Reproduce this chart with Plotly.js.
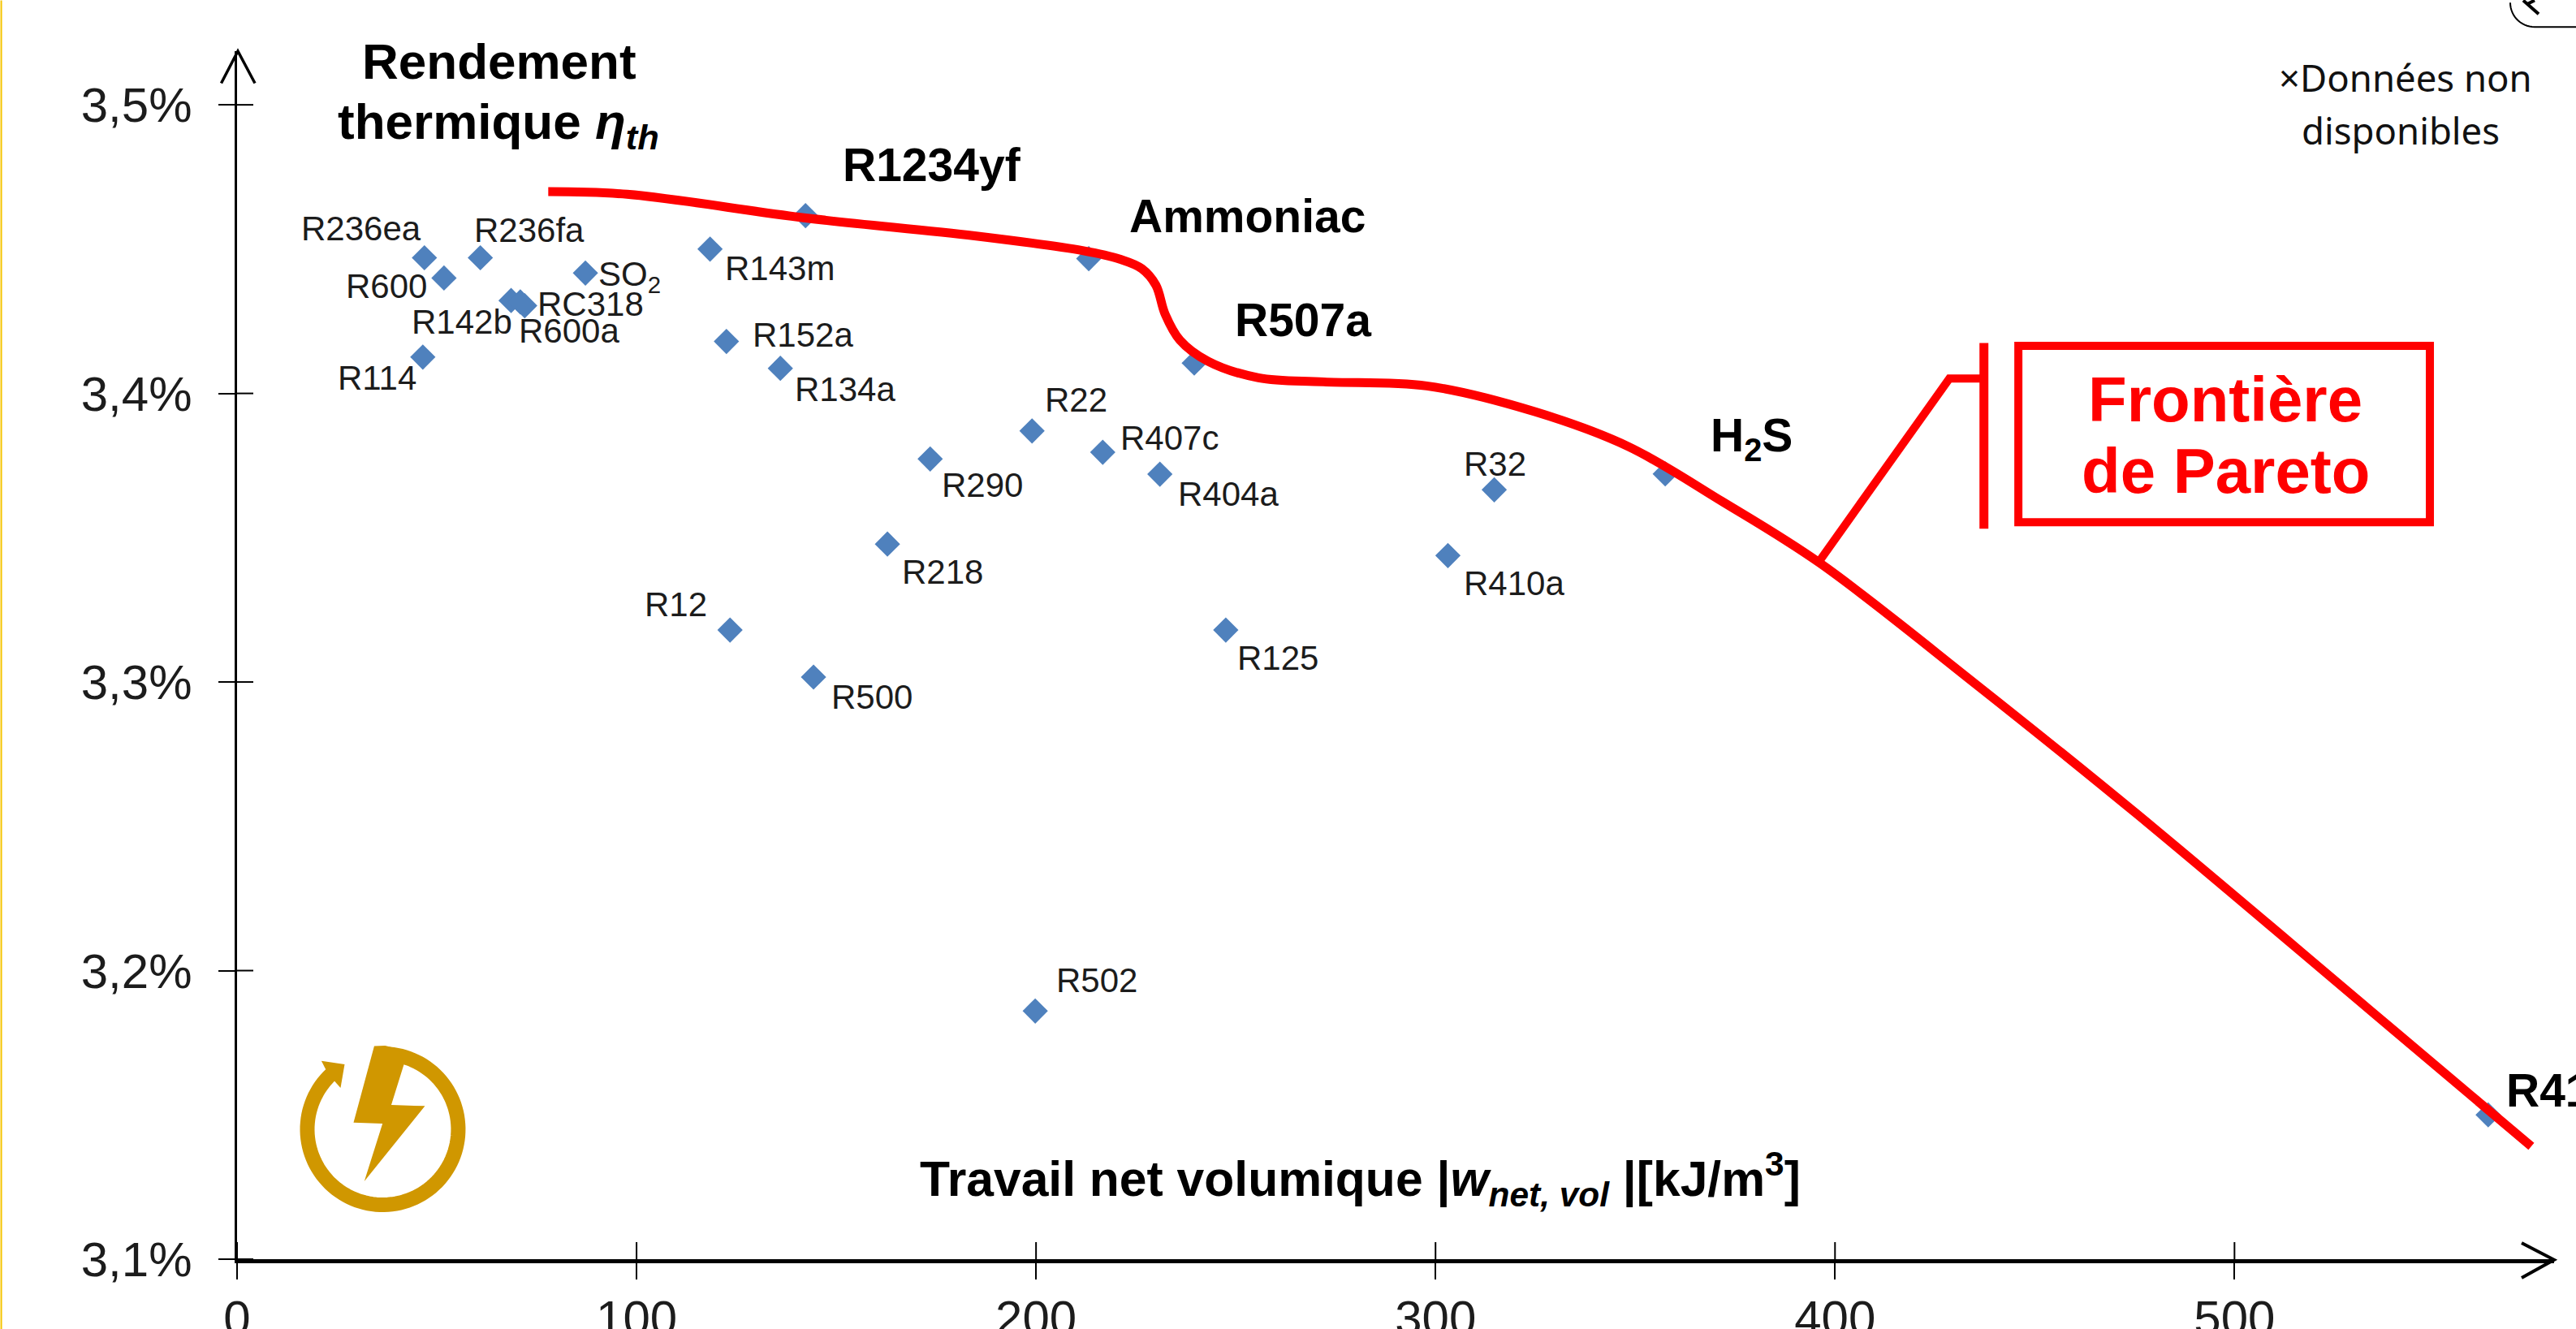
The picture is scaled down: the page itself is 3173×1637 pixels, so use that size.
<!DOCTYPE html>
<html><head><meta charset="utf-8">
<script src="https://cdn.plot.ly/plotly-3.0.1.min.js"></script>
<style>html,body{margin:0;padding:0;background:#fff;overflow:hidden}#c{width:3173px;height:1637px}</style>
</head><body><div id="c"></div>
<script>
// ---- data ----
const fluids = ['R236ea','R600','R236fa','R142b','R600a','RC318','SO<sub>2</sub>','R143m','R1234yf','R114','R152a','R134a','R22','R290','R407c','R404a','Ammoniac','R507a','R218','R12','R500','R125','R32','R410a','H<sub>2</sub>S','R502','R41'];
const workNet = [46.9,51.8,60.9,68.6,70.9,72,87.2,118.4,142.3,46.5,122.5,136,199,173.5,216.7,231,213.2,239.6,162.8,123.4,144.3,247.5,314.7,303.1,357.5,199.8,563.5];
const efficiency = [3.447,3.44,3.447,3.4322,3.4317,3.4304,3.4417,3.45,3.4616,3.4126,3.418,3.4087,3.387,3.3773,3.3796,3.372,3.4467,3.4105,3.3478,3.318,3.3017,3.318,3.3666,3.3438,3.3721,3.186,3.15];
const frontX = [77.9,97.6,142.3,184.6,211.6,221,226.5,230,232.3,236,243,255.7,272,297.8,325,348.4,371.7,396.2,435.1,475.8,533.4,574.3];
const frontY = [3.4699,3.469,3.4608,3.4546,3.4495,3.4465,3.4432,3.4375,3.4275,3.4185,3.4112,3.4054,3.404,3.4026,3.3936,3.3815,3.3626,3.3412,3.2994,3.254,3.1869,3.1391];
const xTicks = [0,100,200,300,400,500];
const yTicks = [3.1,3.2,3.3,3.4,3.5];
const yTickText = ['3,1%','3,2%','3,3%','3,4%','3,5%'];
const boldFluids = ['R1234yf','Ammoniac','R507a','H<sub>2</sub>S','R41'];

// ---- label placement (pixels from each point), kept apart from the data ----
const labelOffsets = {
 'R236ea':[-154,-36],'R600':[-123,10],'R236fa':[-10,-34],'R142b':[-125,26],'R600a':[-4,36],'RC318':[14,-2],
 'SO<sub>2</sub>':[14,4],'R143m':[16,24],'R1234yf':[44,-63],'R114':[-107,26],'R152a':[30,-8],'R134a':[16,26],
 'R22':[14,-38],'R290':[12,32],'R407c':[20,-18],'R404a':[20,24],'Ammoniac':[48,-53],'R507a':[48,-53],
 'R218':[16,34],'R12':[-107,-32],'R500':[20,24],'R125':[12,34],'R32':[-40,-32],'R410a':[18,34],
 'H<sub>2</sub>S':[54,-44],'R502':[24,-38],'R41':[20,-30]
};

const W=3173,H=1637,L=291.5,R=27,T=62.5,B=86;
const pw=W-L-R, ph=H-T-B;
const fx=x=>(x-L)/pw, fy=y=>(H-B-y)/ph;
const FONT='"Liberation Sans", Arial, sans-serif';
const INK='#1c1c1c', RED='#ff0000', GOLD='#d09700';
const pathOf=(pts,close)=>pts.map((p,i)=>(i?'L':'M')+fx(p[0]).toFixed(5)+' '+fy(p[1]).toFixed(5)).join(' ')+(close?' Z':'');
const shapePath=(pts,opt)=>Object.assign({type:'path',xref:'paper',yref:'paper',path:pathOf(pts,opt.close),layer:'above',
  fillcolor:opt.fill||'rgba(0,0,0,0)',line:{color:opt.color||'rgba(0,0,0,0)',width:opt.width||0}});

const shapes=[];
// arrows
shapes.push(shapePath([[272,102],[292.5,62.5],[313.5,102]],{color:'#000',width:3.5}));
shapes.push(shapePath([[3106,1531],[3146,1551.7],[3106,1574]],{color:'#000',width:4}));
// inner half of crossing ticks
xTicks.forEach(v=>shapes.push({type:'line',xref:'x',yref:'paper',x0:v,x1:v,y0:0,y1:21/ph,line:{color:'#000',width:2}}));
yTicks.forEach(v=>shapes.push({type:'line',yref:'y',xref:'paper',y0:v,y1:v,x0:0,x1:20/pw,line:{color:'#000',width:2}}));
// yellow edge of the slide
shapes.push({type:'rect',xref:'paper',yref:'paper',x0:fx(0),x1:fx(2),y0:fy(0),y1:fy(H),fillcolor:'#f5c400',line:{width:0}});
// Pareto callout
shapes.push(shapePath([[2240,692],[2401,466],[2443.6,466]],{color:RED,width:10}));
shapes.push(shapePath([[2443.6,422],[2443.6,651]],{color:RED,width:11}));
shapes.push(shapePath([[2486,425.5],[2993,425.5],[2993,643],[2486,643]],{color:RED,width:10,close:true}));
// logo
const arc=[];for(let a=-88;a<=229;a+=3){const r=a*Math.PI/180;arc.push([471+93*Math.cos(r),1391+93*Math.sin(r)]);}
shapes.push(shapePath(arc,{color:GOLD,width:18}));
shapes.push(shapePath([[460.5,1288.3],[435,1382.7],[470.7,1384],[448.3,1455],[523,1362.3],[481.5,1361],[497.4,1310],[490,1292],[474,1288]],{fill:GOLD,close:true}));
shapes.push(shapePath([[395.4,1306.7],[424,1311],[419,1340],[411,1331],[400.5,1316.7]],{fill:GOLD,close:true}));
// clipped round button, top right
const corner=[];for(let a=180;a>=90;a-=6){const r=a*Math.PI/180;corner.push([3122+30*Math.cos(r),2.7+30*Math.sin(r)]);}
corner.push([3173,32.7]);
shapes.push(shapePath(corner,{color:'#000',width:2}));
shapes.push(shapePath([[3108,0],[3127,16.7]],{color:'#000',width:4}));
shapes.push(shapePath([[3112,5],[3122,0]],{color:'#000',width:4}));

const annotations=[];
fluids.forEach((f,i)=>{
  const o=labelOffsets[f], bold=boldFluids.includes(f);
  annotations.push({x:workNet[i],y:efficiency[i],xref:'x',yref:'y',showarrow:false,xanchor:'left',yanchor:'middle',
    xshift:o[0],yshift:-o[1],text:bold?'<b>'+f+'</b>':f,
    font:{family:FONT,size:bold?57:42,color:bold?'#000':INK}});
});
const note=(text,x,y,size,xanchor,color,family)=>annotations.push({xref:'paper',yref:'paper',x:fx(x),y:fy(y),showarrow:false,
  xanchor:xanchor||'center',yanchor:'middle',text,font:{family:family||FONT,size,color:color||'#000'}});
note('<b>Rendement</b>',615,75,62);
note('<b>thermique <i>η<sub>th</sub></i></b>',614,154,62);
note('<b>Travail net volumique |<i>w<sub>net, vol</sub></i> |[kJ/m<sup>3</sup>]</b>',1675,1452,60.6);
note('<b>Frontière</b>',2741,492,78,'center',RED);
note('<b>de Pareto</b>',2741,580,78,'center',RED);
note('×Données non',2805,95,45.5,'left','#111','"Noto Sans"');
note('disponibles',2833,160,45.5,'left','#111','"Noto Sans"');

const axisBase={showgrid:false,zeroline:false,showline:true,linecolor:'#000',ticks:'outside',ticklen:20,tickwidth:2,tickcolor:'#000',
  tickmode:'array',tickfont:{family:FONT,size:60,color:INK}};

Plotly.newPlot('c',[
 {type:'scatter',mode:'markers',x:workNet,y:efficiency,text:fluids,hoverinfo:'skip',
  marker:{symbol:'diamond',size:24,color:'#4f81bd',line:{width:0}},cliponaxis:false},
 {type:'scatter',mode:'lines',x:frontX,y:frontY,hoverinfo:'skip',
  line:{color:RED,width:11,shape:'spline',smoothing:1},cliponaxis:false}
],{
 width:W,height:H,autosize:false,showlegend:false,separators:', ',
 paper_bgcolor:'#fff',plot_bgcolor:'#fff',
 margin:{l:L,r:R,t:T,b:B,pad:0},
 xaxis:Object.assign({},axisBase,{range:[0,580],tickvals:xTicks,ticktext:xTicks.map(String),linewidth:4.5,ticklabelstandoff:-4}),
 yaxis:Object.assign({},axisBase,{range:[3.1,3.5186],tickvals:yTicks,ticktext:yTickText,linewidth:3.5,ticklabelstandoff:20}),
 shapes,annotations
},{displayModeBar:false,staticPlot:true});
</script></body></html>
